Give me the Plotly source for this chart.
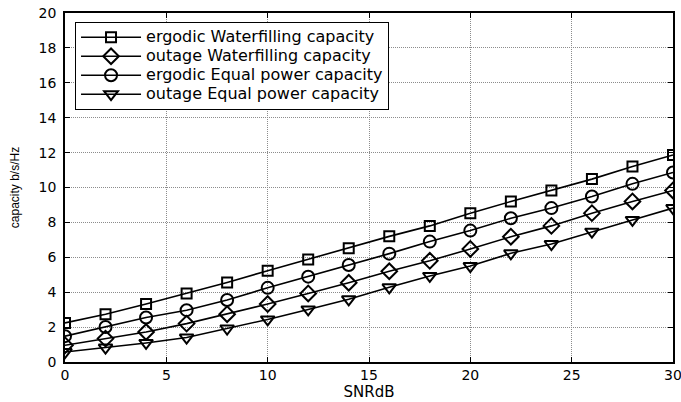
import plotly.graph_objects as go

snr = [0, 2, 4, 6, 8, 10, 12, 14, 16, 18, 20, 22, 24, 26, 28, 30]
ergodic_wf = [2.24, 2.74, 3.32, 3.93, 4.56, 5.23, 5.88, 6.52, 7.20, 7.80, 8.53, 9.20, 9.83, 10.48, 11.20, 11.86]
outage_wf = [0.96, 1.34, 1.72, 2.20, 2.74, 3.32, 3.93, 4.54, 5.20, 5.80, 6.48, 7.18, 7.80, 8.53, 9.20, 9.83]
ergodic_eq = [1.48, 2.01, 2.55, 2.97, 3.55, 4.25, 4.89, 5.56, 6.21, 6.90, 7.53, 8.24, 8.82, 9.48, 10.21, 10.86]
outage_eq = [0.57, 0.83, 1.09, 1.40, 1.92, 2.44, 3.01, 3.59, 4.28, 4.93, 5.50, 6.23, 6.76, 7.47, 8.14, 8.82]

names = ["ergodic Waterfilling capacity", "outage Waterfilling capacity",
         "ergodic Equal power capacity", "outage Equal power capacity"]
values = [ergodic_wf, outage_wf, ergodic_eq, outage_eq]
symbols = ["square-open", "diamond-open", "circle-open", "triangle-down-open"]
sizes = [10, 12, 12, 12]

WIDE = "DejaVu Sans"
NARROW = "Liberation Sans, Arial"

fig = go.Figure()
for name, ys, sym, sz in zip(names, values, symbols, sizes):
    fig.add_trace(go.Scatter(
        x=snr, y=ys, mode="lines+markers",
        name='<span style="font-size:16px">' + name + '</span>',
        line=dict(color="black", width=1.6),
        marker=dict(symbol=sym, size=sz, color="black", line=dict(color="black", width=2)),
    ))

axis_common = dict(
    showgrid=True, gridcolor="#8c8c8c", griddash="1px,1px", gridwidth=1,
    showline=True, linecolor="black", linewidth=1.5, mirror="ticks",
    ticks="inside", ticklen=5, tickcolor="black", tickwidth=1,
    zeroline=False, automargin=False, ticklabeloverflow="allow",
    tickfont=dict(family=WIDE, size=14, color="black"),
)

fig.update_layout(
    width=681, height=402,
    margin=dict(l=65, r=8, t=13, b=40),
    paper_bgcolor="white", plot_bgcolor="white",
    font=dict(family=WIDE, color="black"),
    xaxis=dict(range=[0, 30], dtick=5, ticklabelstandoff=-1,
               title=dict(text="SNRdB", standoff=4, font=dict(family=WIDE, size=15, color="black")),
               **axis_common),
    yaxis=dict(range=[0, 20], dtick=2, ticklabelstandoff=4,
               title=dict(text="capacity b/s/Hz", standoff=16, font=dict(family=NARROW, size=12, color="black")),
               **axis_common),
    legend=dict(
        x=0.0165, y=0.975, xanchor="left", yanchor="top",
        bgcolor="white", bordercolor="black", borderwidth=1,
        font=dict(family=WIDE, size=12, color="black"),
        itemwidth=60, tracegroupgap=0,
    ),
    showlegend=True,
)

# remove the default 8px page margin so the figure sits at the window's corner
fig.write_html("out.html", config={"displayModeBar": False},
               post_script="document.body.style.margin='0';")
